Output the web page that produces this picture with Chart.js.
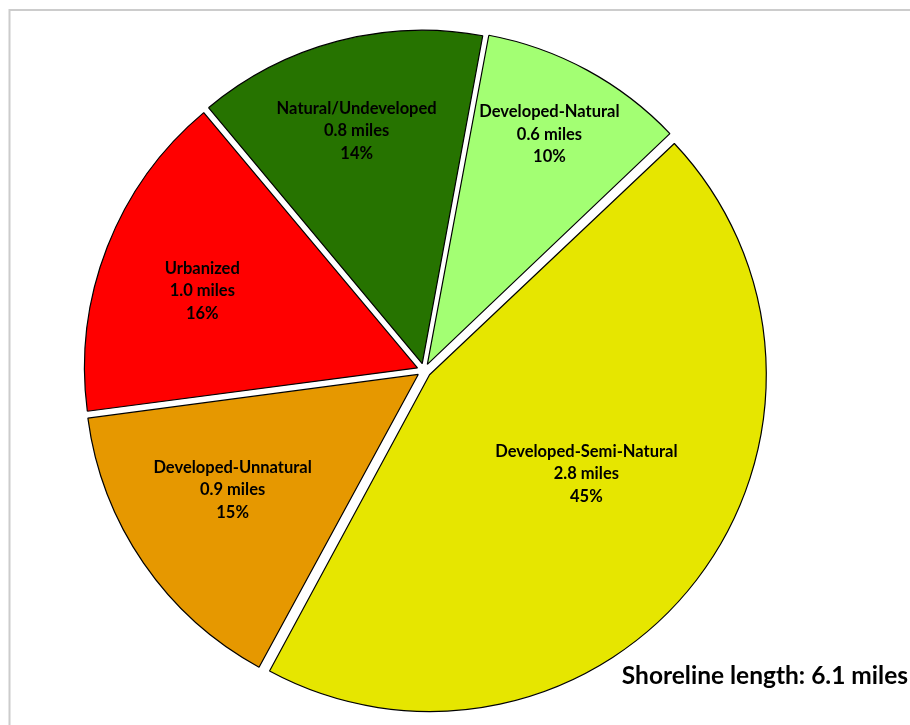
<!DOCTYPE html>
<html>
<head>
<meta charset="utf-8">
<script src="https://cdn.jsdelivr.net/npm/chart.js@4.4.1/dist/chart.umd.min.js"></script>
<style>
  html, body { margin: 0; padding: 0; background: #ffffff; }
  #wrap { width: 910px; height: 725px; position: relative; }
</style>
</head>
<body>
<div id="wrap"><canvas id="chart" width="910" height="725"></canvas></div>
<script>
// Shoreline classes, clockwise from the top
const categories = ['Developed-Natural', 'Developed-Semi-Natural', 'Developed-Unnatural', 'Urbanized', 'Natural/Undeveloped'];
const percentShares = [10, 45, 15, 16, 14];
const milesLabels = ['0.6 miles', '2.8 miles', '0.9 miles', '1.0 miles', '0.8 miles'];
const sliceColors = ['#A3FF73', '#E6E600', '#E69800', '#FF0000', '#267300'];
const totalLabel = 'Shoreline length: 6.1 miles';

// label placement along each slice's bisector (fraction of radius, angle nudge in degrees)
const labelRadius = [0.805, 0.58, 0.68, 0.71, 0.75];
const labelNudge = [-0.5, -5, 2.5, -1.5, -1];

const FONT = '"Lato", "Open Sans", sans-serif';

const framePlugin = {
  id: 'frame',
  beforeDraw(chart) {
    const ctx = chart.ctx;
    ctx.save();
    ctx.strokeStyle = '#cccccc';
    ctx.lineWidth = 2;
    ctx.strokeRect(9.5, 10, 1200, 1200);
    ctx.restore();
  }
};

const sliceLabels = {
  id: 'sliceLabels',
  afterDatasetsDraw(chart) {
    const ctx = chart.ctx;
    const arcs = chart.getDatasetMeta(0).data;
    ctx.save();
    ctx.fillStyle = '#000000';
    ctx.textAlign = 'center';
    ctx.textBaseline = 'middle';
    ctx.font = 'bold 16.5px ' + FONT;
    arcs.forEach((arc, i) => {
      const p = arc.getProps(['x', 'y', 'startAngle', 'endAngle', 'outerRadius'], true);
      const mid = (p.startAngle + p.endAngle) / 2 + labelNudge[i] * Math.PI / 180;
      const r = p.outerRadius * labelRadius[i];
      const cx = p.x + Math.cos(mid) * r;
      const cy = p.y + Math.sin(mid) * r;
      const lines = [categories[i], milesLabels[i], percentShares[i] + '%'];
      lines.forEach((t, k) => ctx.fillText(t, cx, cy + (k - 1) * 22.5));
    });
    ctx.font = 'bold 24.5px ' + FONT;
    ctx.textAlign = 'right';
    ctx.fillText(totalLabel, 908, 676);
    ctx.restore();
  }
};

new Chart(document.getElementById('chart'), {
  type: 'pie',
  data: {
    labels: categories,
    datasets: [{
      data: percentShares,
      backgroundColor: sliceColors,
      borderColor: '#000000',
      borderWidth: 1.2,
      offset: 28,
      hoverOffset: 28
    }]
  },
  options: {
    responsive: false,
    devicePixelRatio: 1,
    animation: false,
    rotation: 10.5,
    layout: { padding: { top: 24, bottom: 8, left: 74, right: 136 } },
    plugins: {
      legend: { display: false },
      tooltip: { enabled: false },
      title: { display: false }
    },
    events: []
  },
  plugins: [framePlugin, sliceLabels]
});
</script>
</body>
</html>
